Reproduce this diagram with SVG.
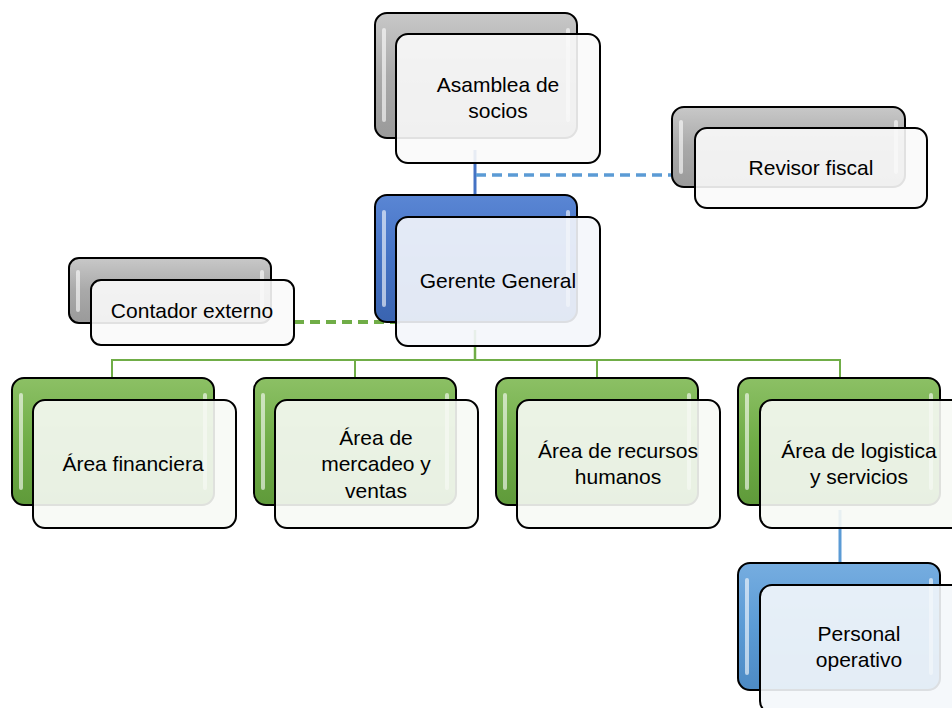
<svg xmlns="http://www.w3.org/2000/svg" width="952" height="708" viewBox="0 0 952 708">
<defs>
<linearGradient id="gGray" x1="0" y1="0" x2="0" y2="1"><stop offset="0" stop-color="#c8c8c8"/><stop offset="0.5" stop-color="#a9a9a9"/><stop offset="1" stop-color="#9a9a9a"/></linearGradient>
<linearGradient id="gGreen" x1="0" y1="0" x2="0" y2="1"><stop offset="0" stop-color="#8cc065"/><stop offset="0.5" stop-color="#70ad47"/><stop offset="1" stop-color="#5f9a3a"/></linearGradient>
<linearGradient id="gBlue" x1="0" y1="0" x2="0" y2="1"><stop offset="0" stop-color="#5a86d4"/><stop offset="0.5" stop-color="#4472c4"/><stop offset="1" stop-color="#3a64b0"/></linearGradient>
<linearGradient id="gLBlue" x1="0" y1="0" x2="0" y2="1"><stop offset="0" stop-color="#76ade0"/><stop offset="0.5" stop-color="#5b9bd5"/><stop offset="1" stop-color="#4d8ac4"/></linearGradient>
</defs>
<style>
.back{stroke:#000;stroke-width:2}
.bev{fill:none;stroke:#ffffff;stroke-opacity:0.6;stroke-width:4;stroke-linecap:round}
.front{fill:#fafafa;fill-opacity:0.9;stroke:#000;stroke-width:2}
text{font-family:"Liberation Sans",Arial,sans-serif;font-size:21px;fill:#000;text-anchor:middle}
.conn{fill:none}
</style>
<g id="connectors">
<line class="conn" x1="475" y1="150" x2="475" y2="196" stroke="#4472c4" stroke-width="3"/>
<line class="conn" x1="476" y1="175" x2="696" y2="175" stroke="#5b9bd5" stroke-width="3.5" stroke-dasharray="10,6"/>
<line class="conn" x1="294" y1="322" x2="400" y2="322" stroke="#70ad47" stroke-width="4" stroke-dasharray="10,6"/>
<polyline class="conn" points="475,330 475,360" stroke="#70ad47" stroke-width="2.5"/>
<polyline class="conn" points="112,378 112,360 840,360 840,378" stroke="#70ad47" stroke-width="2"/>
<line class="conn" x1="355" y1="360" x2="355" y2="378" stroke="#70ad47" stroke-width="2"/>
<line class="conn" x1="597" y1="360" x2="597" y2="378" stroke="#70ad47" stroke-width="2"/>
<line class="conn" x1="840" y1="510" x2="840" y2="564" stroke="#5b9bd5" stroke-width="3"/>
</g>
<g id="asamblea">
<rect class="back" x="375" y="13" width="202" height="125" rx="12" fill="url(#gGray)"/>
<path class="bev" d="M384,30 V120 M568,30 V120"/>
<rect class="front" x="396" y="34" width="204" height="129" rx="12"/>
<text x="498" y="92">Asamblea de</text>
<text x="498" y="118">socios</text>
</g>
<g id="revisor">
<rect class="back" x="672" y="107" width="233" height="80" rx="12" fill="url(#gGray)"/>
<path class="bev" d="M681,122 V172 M896,122 V172"/>
<rect class="front" x="695" y="128" width="232" height="80" rx="12"/>
<text x="811" y="175">Revisor fiscal</text>
</g>
<g id="gerente">
<rect class="back" x="375" y="195" width="202" height="127" rx="12" fill="url(#gBlue)"/>
<path class="bev" d="M384,212 V305 M568,212 V305"/>
<rect class="front" x="396" y="217" width="204" height="129" rx="12" style="fill:#f4f6fb"/>
<text x="498" y="288">Gerente General</text>
</g>
<g id="contador">
<rect class="back" x="69" y="258" width="202" height="65" rx="10" fill="url(#gGray)"/>
<path class="bev" d="M78,272 V310 M262,272 V310"/>
<rect class="front" x="91" y="280" width="203" height="65" rx="10"/>
<text x="192" y="318">Contador externo</text>
</g>
<g id="financiera">
<rect class="back" x="12" y="378" width="202" height="127" rx="12" fill="url(#gGreen)"/>
<path class="bev" d="M21,395 V488 M205,395 V488"/>
<rect class="front" x="33" y="400" width="203" height="128" rx="12" style="fill:#f7f9f5"/>
<text x="133" y="471">Área financiera</text>
</g>
<g id="mercadeo">
<rect class="back" x="254" y="378" width="202" height="127" rx="12" fill="url(#gGreen)"/>
<path class="bev" d="M263,395 V488 M447,395 V488"/>
<rect class="front" x="275" y="400" width="203" height="128" rx="12" style="fill:#f7f9f5"/>
<text x="376" y="445">Área de</text>
<text x="376" y="471">mercadeo y</text>
<text x="376" y="498">ventas</text>
</g>
<g id="recursos">
<rect class="back" x="496" y="378" width="202" height="127" rx="12" fill="url(#gGreen)"/>
<path class="bev" d="M505,395 V488 M689,395 V488"/>
<rect class="front" x="517" y="400" width="203" height="128" rx="12" style="fill:#f7f9f5"/>
<text x="618" y="458">Área de recursos</text>
<text x="618" y="484">humanos</text>
</g>
<g id="logistica">
<rect class="back" x="738" y="378" width="202" height="127" rx="12" fill="url(#gGreen)"/>
<path class="bev" d="M747,395 V488 M931,395 V488"/>
<rect class="front" x="760" y="400" width="203" height="128" rx="12" style="fill:#f7f9f5"/>
<text x="859" y="458">Área de logistica</text>
<text x="859" y="484">y servicios</text>
</g>
<g id="personal">
<rect class="back" x="738" y="563" width="202" height="127" rx="12" fill="url(#gLBlue)"/>
<path class="bev" d="M747,580 V673 M931,580 V673"/>
<rect class="front" x="760" y="585" width="203" height="128" rx="12" style="fill:#f4f7fb"/>
<text x="859" y="641">Personal</text>
<text x="859" y="667">operativo</text>
</g>
</svg>
